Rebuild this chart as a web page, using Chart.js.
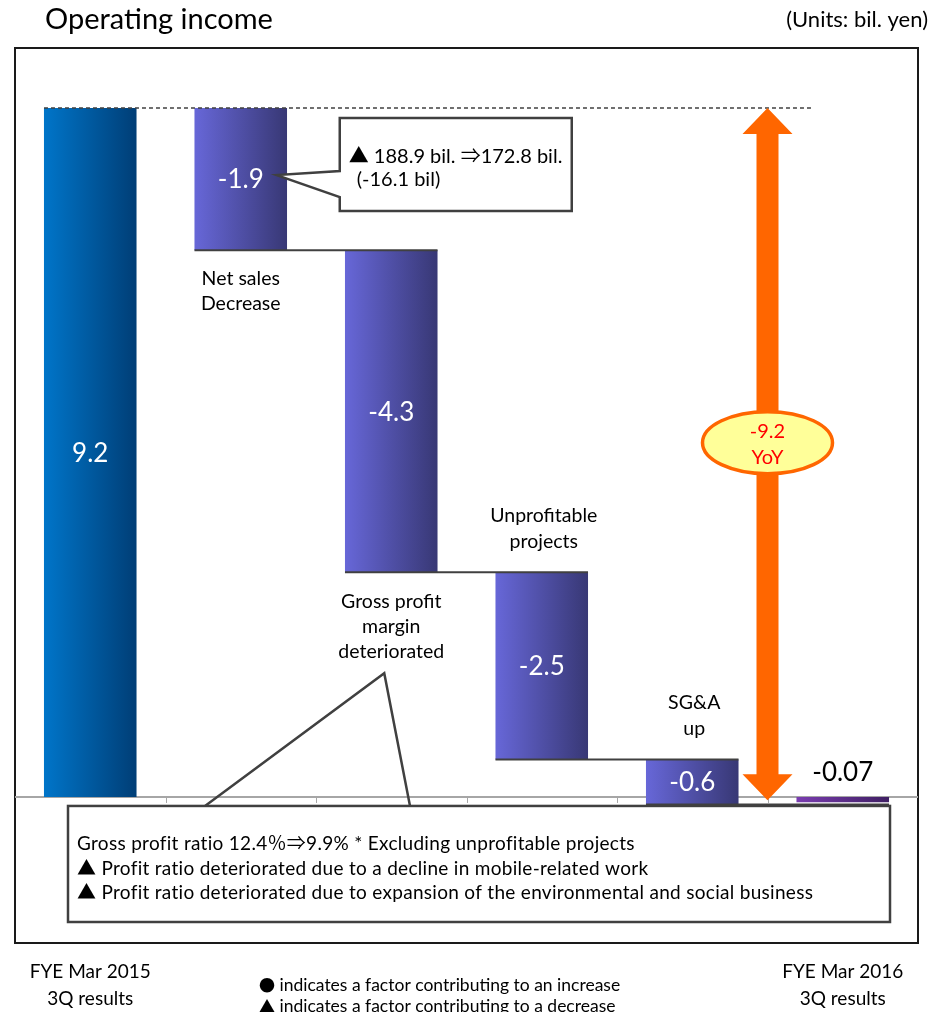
<!DOCTYPE html>
<html>
<head>
<meta charset="utf-8">
<script src="https://cdn.jsdelivr.net/npm/chart.js@4/dist/chart.umd.min.js"></script>
<style>
  html, body { margin: 0; padding: 0; background: #ffffff; }
  #wrap { position: relative; width: 942px; height: 1012px; }
</style>
</head>
<body>
<div id="wrap"><canvas id="chart"></canvas></div>
<script>
// Operating income bridge, FYE Mar 2015 3Q -> FYE Mar 2016 3Q (bil. yen)
const categories = ['FYE Mar 2015 3Q results', 'Net sales Decrease', 'Gross profit margin deteriorated',
                    'Unprofitable projects', 'SG&A up', 'FYE Mar 2016 3Q results'];
const changes = [9.2, -1.9, -4.3, -2.5, -0.6, -0.07];
const valueLabels = ['9.2', '-1.9', '-4.3', '-2.5', '-0.6', '-0.07'];
const factorLabels = [null, ['Net sales', 'Decrease'], ['Gross profit', 'margin', 'deteriorated'],
                      ['Unprofitable', 'projects'], ['SG&A', 'up'], null];
const factorLabelSide = [null, 'below', 'below', 'above', 'above', null];
const yoyLabel = ['-9.2', 'YoY'];
const salesNote = ['\u25B2 188.9 bil. \u21D2172.8 bil.', '(-16.1 bil)'];
const marginNotes = ['Gross profit ratio 12.4\uFF05\u21D29.9% * Excluding unprofitable projects',
                     '\u25B2 Profit ratio deteriorated due to a decline in mobile-related work',
                     '\u25B2 Profit ratio deteriorated due to expansion of the environmental and social business'];
const legendNotes = [['\u25CF', ' indicates a factor contributing to an increase'],
                     ['\u25B2', ' indicates a factor contributing to a decrease']];
const yRange = { min: -1.95, max: 10.0 };

// Floating [low, high] ranges: first and last bars are totals, the rest step down from the running level.
const ranges = [];
let level = 0;
changes.forEach((v, i) => {
  if (i === 0 || i === changes.length - 1) {
    ranges.push([Math.min(0, v), Math.max(0, v)]);
    level = v;
  } else {
    const next = level + v;
    ranges.push([Math.min(level, next), Math.max(level, next)]);
    level = next;
  }
});

const FONT = 'Lato, "Noto Sans CJK JP", sans-serif';
const SYMBOL_FONT = '"Noto Sans CJK JP", sans-serif';
const BAR_FRACTION = 0.615;

function barGradient(ctx) {
  const chart = ctx.chart;
  const ca = chart.chartArea;
  if (!ca || ctx.dataIndex === undefined) return '#5a5ac0';
  const i = ctx.dataIndex;
  const cx = chart.scales.x.getPixelForValue(i);
  const w = (ca.right - ca.left) / categories.length * BAR_FRACTION;
  const g = chart.ctx.createLinearGradient(cx - w / 2, 0, cx + w / 2, 0);
  if (i === 0) {
    g.addColorStop(0, '#0075c9'); g.addColorStop(1, '#003e76');
  } else if (i === categories.length - 1) {
    g.addColorStop(0, '#7a3db0'); g.addColorStop(1, '#3f1f63');
  } else {
    g.addColorStop(0, '#6767d8'); g.addColorStop(1, '#383875');
  }
  return g;
}

function textLines(c, lines, x, y, step) {
  lines.forEach((t, k) => c.fillText(t, x, y + k * step));
}

const decor = {
  id: 'bridgeDecor',
  beforeDatasetsDraw(chart) {
    const c = chart.ctx, ca = chart.chartArea, xs = chart.scales.x, ys = chart.scales.y;
    const zeroY = ys.getPixelForValue(0);
    c.save();
    // plot frame
    c.strokeStyle = '#1a1a1a'; c.lineWidth = 2;
    c.strokeRect(ca.left, ca.top, ca.right - ca.left, ca.bottom - ca.top);
    // zero line with category boundary ticks
    c.strokeStyle = '#a6a6a6'; c.lineWidth = 2;
    c.beginPath(); c.moveTo(ca.left, zeroY); c.lineTo(ca.right, zeroY); c.stroke();
    for (let k = 0; k < categories.length - 1; k++) {
      const tx = Math.round(xs.getPixelForValue(k + 0.5)) + 0.5;
      c.lineWidth = 1;
      c.beginPath(); c.moveTo(tx, zeroY); c.lineTo(tx, zeroY + 6); c.stroke();
    }
    c.restore();
  },
  afterDatasetsDraw(chart) {
    const c = chart.ctx, ca = chart.chartArea, xs = chart.scales.x, ys = chart.scales.y;
    const meta = chart.getDatasetMeta(0);
    const els = meta.data;
    const zeroY = ys.getPixelForValue(0);
    const w = (ca.right - ca.left) / categories.length * BAR_FRACTION;
    c.save();

    // dashed reference at the starting level
    const startY = ys.getPixelForValue(ranges[0][1]);
    c.strokeStyle = '#404040'; c.lineWidth = 1.5; c.setLineDash([4, 3]);
    c.beginPath(); c.moveTo(els[0].x - w / 2, startY); c.lineTo(xs.getPixelForValue(4.8), startY); c.stroke();
    c.setLineDash([]);

    // step connectors under each decreasing bar
    c.strokeStyle = '#404040'; c.lineWidth = 2;
    for (let i = 1; i < els.length - 1; i++) {
      const yb = ys.getPixelForValue(ranges[i][0]);
      c.beginPath(); c.moveTo(els[i].x - w / 2, yb); c.lineTo(els[i + 1].x + w / 2, yb); c.stroke();
    }

    // values on bars
    c.textAlign = 'center'; c.textBaseline = 'middle';
    els.forEach((el, i) => {
      const top = Math.min(el.y, el.base), bot = Math.max(el.y, el.base);
      if (i === els.length - 1) {
        c.fillStyle = '#000000'; c.font = '26px ' + FONT;
        c.fillText(valueLabels[i], el.x, top - 24);
      } else {
        c.fillStyle = '#ffffff'; c.font = '26px ' + FONT;
        c.fillText(valueLabels[i], el.x, (top + bot) / 2 + 1);
      }
    });

    // factor names
    c.fillStyle = '#000000'; c.font = '19.5px ' + FONT;
    els.forEach((el, i) => {
      const lines = factorLabels[i];
      if (!lines) return;
      const top = Math.min(el.y, el.base), bot = Math.max(el.y, el.base);
      if (factorLabelSide[i] === 'below') {
        textLines(c, lines, el.x, bot + 29, 25);
      } else {
        textLines(c, lines, el.x + 2, top - 31 - (lines.length - 1) * 26, 26);
      }
    });

    // callout: net sales
    const b2 = els[1];
    const b2mid = (b2.y + b2.base) / 2;
    const bx = b2.x + 99, by = b2.y + 10, bw = 232, bh = 93;
    c.fillStyle = '#ffffff'; c.strokeStyle = '#404040'; c.lineWidth = 2.5;
    c.beginPath();
    c.moveTo(bx, by); c.lineTo(bx + bw, by); c.lineTo(bx + bw, by + bh); c.lineTo(bx, by + bh);
    c.lineTo(bx, b2mid + 18); c.lineTo(b2.x + 36, b2mid - 4); c.lineTo(bx, b2mid - 8);
    c.closePath(); c.fill(); c.stroke();
    c.fillStyle = '#000000'; c.font = '20px ' + FONT; c.textAlign = 'left';
    c.fillText(salesNote[0], bx + 9, by + 39);
    c.fillText(salesNote[1], bx + 17, by + 62);

    // YoY double arrow between the two totals
    const ax = xs.getPixelForValue(4.5);
    const aTop = ys.getPixelForValue(ranges[0][1]);
    const aBot = ys.getPixelForValue(changes[changes.length - 1]) - 2;
    const shaft = 11, head = 25, headLen = 26;
    c.fillStyle = '#ff6600';
    c.beginPath();
    c.moveTo(ax, aTop);
    c.lineTo(ax + head, aTop + headLen); c.lineTo(ax + shaft, aTop + headLen);
    c.lineTo(ax + shaft, aBot - headLen); c.lineTo(ax + head, aBot - headLen);
    c.lineTo(ax, aBot);
    c.lineTo(ax - head, aBot - headLen); c.lineTo(ax - shaft, aBot - headLen);
    c.lineTo(ax - shaft, aTop + headLen); c.lineTo(ax - head, aTop + headLen);
    c.closePath(); c.fill();

    const ey = ys.getPixelForValue(4.73);
    c.beginPath(); c.ellipse(ax, ey, 65, 31, 0, 0, Math.PI * 2);
    c.fillStyle = '#ffff99'; c.fill();
    c.strokeStyle = '#ff6600'; c.lineWidth = 3.5; c.stroke();
    c.fillStyle = '#ff0000'; c.font = '20px ' + FONT; c.textAlign = 'center';
    c.fillText(yoyLabel[0], ax, ey - 11);
    c.fillText(yoyLabel[1], ax, ey + 15);

    // callout: gross profit margin
    const b3 = els[2];
    const tipX = b3.x - 7, tipY = Math.max(b3.y, b3.base) + 101;
    const L = ca.left + 53, R = ca.right - 28, T = zeroY + 9, B = ca.bottom - 21;
    c.fillStyle = '#ffffff'; c.fillRect(L, T, R - L, B - T);
    c.strokeStyle = '#404040'; c.lineWidth = 2.5;
    c.strokeRect(L, T, R - L, B - T);
    c.beginPath(); c.moveTo(L + 137, T); c.lineTo(tipX, tipY); c.lineTo(L + 342, T); c.stroke();
    c.fillStyle = '#000000'; c.font = '19px ' + FONT; c.textAlign = 'left';
    c.letterSpacing = '0.3px';
    textLines(c, marginNotes, L + 9, T + 38, 24.5);
    c.letterSpacing = '0px';

    c.restore();

    // header and footer text outside the plot frame
    c.save();
    c.fillStyle = '#000000'; c.textBaseline = 'middle';
    c.font = '29px ' + FONT; c.textAlign = 'left';
    c.fillText('Operating income', 45, 20);
    c.font = '22px ' + FONT; c.textAlign = 'right';
    c.fillText('(Units: bil. yen)', 928, 20);
    c.font = '19px ' + FONT; c.textAlign = 'center';
    const x0 = els[0].x, x5 = els[5].x;
    c.fillText('FYE Mar 2015', x0, ca.bottom + 29);
    c.fillText('3Q results', x0, ca.bottom + 56);
    c.fillText('FYE Mar 2016', x5, ca.bottom + 29);
    c.fillText('3Q results', x5, ca.bottom + 56);
    c.textAlign = 'left';
    legendNotes.forEach((parts, k) => {
      const ly = ca.bottom + 42 + k * 21;
      c.font = '16px ' + SYMBOL_FONT;
      c.fillText(parts[0], 259, ly);
      const sw = c.measureText(parts[0]).width;
      c.font = '17.5px ' + FONT;
      c.fillText(parts[1], 259 + sw, ly);
    });
    c.restore();
  }
};

new Chart(document.getElementById('chart'), {
  type: 'bar',
  data: {
    labels: categories,
    datasets: [{
      data: ranges,
      backgroundColor: barGradient,
      borderWidth: 0,
      borderSkipped: false,
      barPercentage: BAR_FRACTION,
      categoryPercentage: 1
    }]
  },
  options: {
    responsive: true,
    maintainAspectRatio: false,
    animation: false,
    layout: { padding: { left: 15, top: 48, right: 24, bottom: 69 } },
    plugins: { legend: { display: false }, tooltip: { enabled: false } },
    scales: {
      x: { display: false, offset: true },
      y: { display: false, min: yRange.min, max: yRange.max }
    }
  },
  plugins: [decor]
});
</script>
</body>
</html>
